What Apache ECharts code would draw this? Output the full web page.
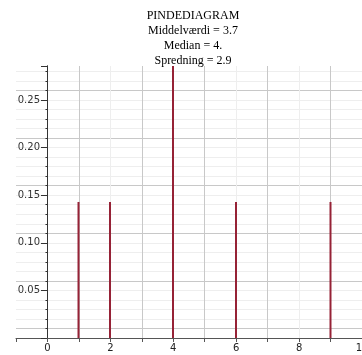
<!DOCTYPE html>
<html>
<head>
    <meta charset="utf-8">
    <title>Pindediagram</title>
    <script src="https://cdn.jsdelivr.net/npm/echarts@6/dist/echarts.min.js"></script>
</head>
<style>
html,
body {
    margin: 0px;
    width: 100%;
    height: 100%;
    background: #fff;
}
div#main {
    width: 362px;
    height: 355px;
}
</style>
<body>
    <div id="main"></div>
    <script type="text/javascript">
        // observationer og sandsynligheder
        var xs = [1, 2, 4, 6, 9];
        var probs = [0.1429, 0.1429, 0.2857, 0.1429, 0.1429];
        var titleLines = ['PINDEDIAGRAM', 'Middelværdi = 3.7', 'Median = 4.', 'Spredning = 2.9'];
        var yLabels = [0.05, 0.10, 0.15, 0.20, 0.25];
        var xLabels = [0, 2, 4, 6, 8, 10];

        var pins = xs.map(function (x, i) { return [x, probs[i]]; });

        var hidden = { show: false };

        var myChart = echarts.init(document.getElementById('main'));
        myChart.setOption({
            animation: false,
            title: {
                text: titleLines.join('\n'),
                left: 188,
                top: 3,
                textAlign: 'center',
                textStyle: {
                    fontFamily: 'Liberation Serif',
                    fontSize: 12,
                    fontWeight: 'normal',
                    lineHeight: 15,
                    color: '#000'
                }
            },
            // grid 0: hele plotfladen (x fra -1), grid 1: fra x = 0 med y-aksen og pindene
            grid: [
                { left: 16, right: 0, top: 66, bottom: 17, outerBoundsMode: 'none' },
                { left: 47, right: 0, top: 66, bottom: 17, outerBoundsMode: 'none' }
            ],
            xAxis: [{
                gridIndex: 0,
                type: 'value',
                min: -1,
                max: 10,
                interval: 1,
                axisLine: { onZero: false, lineStyle: { color: '#555', width: 1 } },
                axisTick: { show: true, length: 4, lineStyle: { color: '#555' } },
                axisLabel: {
                    margin: 5,
                    fontFamily: 'DejaVu Sans',
                    fontSize: 10,
                    color: '#222',
                    formatter: function (v) {
                        var r = Math.round(v);
                        return xLabels.indexOf(r) >= 0 && Math.abs(v - r) < 1e-6 ? String(r) : '';
                    }
                },
                splitLine: {
                    show: true,
                    showMinLine: false,
                    lineStyle: { color: ['#eeeeee', '#c8c8c8'], width: 1 }
                }
            }, {
                gridIndex: 1,
                type: 'value',
                min: 0,
                max: 10,
                interval: 1,
                axisLine: { show: false, onZero: false },
                axisTick: hidden,
                axisLabel: hidden,
                splitLine: hidden
            }],
            yAxis: [{
                gridIndex: 0,
                type: 'value',
                min: 0,
                max: 0.2857,
                interval: 0.01,
                axisLine: { show: true, onZero: true, lineStyle: { color: '#333', width: 1 } },
                axisTick: { show: true, length: 2, lineStyle: { color: '#333' } },
                axisLabel: hidden,
                splitLine: {
                    show: true,
                    showMinLine: false,
                    showMaxLine: false,
                    lineStyle: { color: ['#c8c8c8', '#eeeeee', '#eeeeee', '#eeeeee', '#eeeeee'], width: 1 }
                }
            }, {
                gridIndex: 1,
                type: 'value',
                min: 0,
                max: 0.2857,
                interval: 0.05,
                axisLine: { show: true, onZero: false, lineStyle: { color: '#333', width: 1 } },
                axisTick: { show: true, length: 6, lineStyle: { color: '#333' } },
                axisLabel: {
                    margin: 7,
                    fontFamily: 'DejaVu Sans',
                    fontSize: 10,
                    color: '#333',
                    formatter: function (v) {
                        for (var i = 0; i < yLabels.length; i++) {
                            if (Math.abs(v - yLabels[i]) < 1e-6) return yLabels[i].toFixed(2);
                        }
                        return '';
                    }
                },
                splitLine: hidden
            }],
            series: [{
                type: 'bar',
                xAxisIndex: 1,
                yAxisIndex: 1,
                barWidth: 2,
                itemStyle: { color: '#962236' },
                data: pins
            }]
        });
    </script>
</body>
</html>
